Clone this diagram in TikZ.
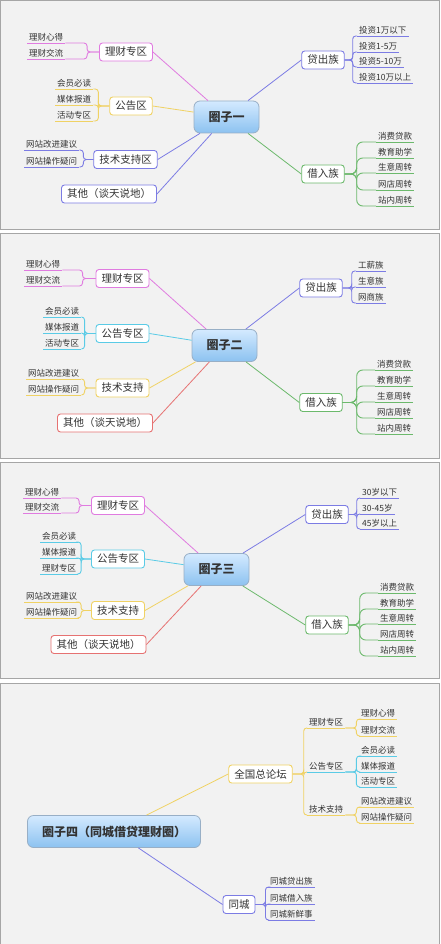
\documentclass[tikz,border=0pt]{standalone}
\usepackage{fontspec}
\usepackage{tikz}
\newfontfamily\cjk{Noto Sans CJK SC}
\definecolor{PanelBg}{HTML}{F2F2F2}
\definecolor{PanelLine}{HTML}{A6A6A6}
\definecolor{Ink}{HTML}{333333}
\definecolor{Mag}{HTML}{E07BE0}
\definecolor{Yel}{HTML}{F0D264}
\definecolor{Blu}{HTML}{7C7CE4}
\definecolor{Grn}{HTML}{6CB96C}
\definecolor{Cya}{HTML}{5ACBE6}
\definecolor{Red}{HTML}{E67272}
\definecolor{RootTop}{HTML}{D4EAFF}
\definecolor{RootBot}{HTML}{8CC2F0}
\definecolor{RootLine}{HTML}{98AFC6}

\begin{document}
\begin{tikzpicture}[
  x=1pt,y=-1pt,
  every node/.style={font=\cjk,text=Ink},
  panel/.style={draw=PanelLine,fill=PanelBg,line width=1pt},
  root/.style={rectangle,rounded corners=6pt,draw=RootLine,top color=RootTop,bottom color=RootBot,
    line width=0.8pt,minimum height=32pt,inner xsep=14.5pt,font=\cjk\bfseries\fontsize{12}{14}\selectfont},
  topic/.style={rectangle,rounded corners=3pt,draw=#1,fill=white,line width=0.9pt,
    minimum height=18pt,inner xsep=5.5pt,inner ysep=2pt,font=\cjk\fontsize{10.5}{12}\selectfont},
  leaf/.style={inner xsep=2pt,inner ysep=2pt,font=\cjk\fontsize{8.5}{10}\selectfont,
    append after command={(\tikzlastnode.south west) edge[draw=#1,line width=0.9pt] (\tikzlastnode.south east)}},
  link/.style={draw=#1,line width=0.8pt},
  fork/.style={draw=#1,line width=0.9pt,rounded corners=3pt}
]
\useasboundingbox (0,0) rectangle (440,944);
\draw[panel] (0.5,0.5) rectangle (439.5,229.5);
\draw[panel] (0.5,233.5) rectangle (439.5,458.5);
\draw[panel] (0.5,462.5) rectangle (439.5,678.5);
\draw[panel] (0.5,683.5) rectangle (439.5,950);

\node[root] (q1) at (226.5,117) {圈子一};
\node[topic=Mag] (q1lc) at (126,52) {理财专区};
\node[topic=Yel] (q1gg) at (131,106) {公告区};
\node[topic=Blu] (q1js) at (125.5,159.5) {技术支持区};
\node[topic=Blu] (q1qt) at (109,194) {其他（谈天说地）};
\node[topic=Blu] (q1dc) at (323,60) {贷出族};
\node[topic=Grn] (q1jr) at (323,174) {借入族};
\node[leaf=Mag,anchor=south west] (q1lc1) at (27,43) {理财心得};
\node[leaf=Mag,anchor=south west] (q1lc2) at (27,59) {理财交流};
\node[leaf=Yel,anchor=south west] (q1gg1) at (55,89) {会员必读};
\node[leaf=Yel,anchor=south west] (q1gg2) at (55,105) {媒体报道};
\node[leaf=Yel,anchor=south west] (q1gg3) at (55,121) {活动专区};
\node[leaf=Blu,anchor=south west] (q1js1) at (24,150) {网站改进建议};
\node[leaf=Blu,anchor=south west] (q1js2) at (24,167) {网站操作疑问};
\node[leaf=Blu,anchor=south west] (q1dc1) at (357,36) {投资1万以下};
\node[leaf=Blu,anchor=south west] (q1dc2) at (357,52) {投资1-5万};
\node[leaf=Blu,anchor=south west] (q1dc3) at (357,67) {投资5-10万};
\node[leaf=Blu,anchor=south west] (q1dc4) at (357,83) {投资10万以上};
\node[leaf=Grn,anchor=south west] (q1jr1) at (376,142) {消费贷款};
\node[leaf=Grn,anchor=south west] (q1jr2) at (376,158) {教育助学};
\node[leaf=Grn,anchor=south west] (q1jr3) at (376,173) {生意周转};
\node[leaf=Grn,anchor=south west] (q1jr4) at (376,190) {网店周转};
\node[leaf=Grn,anchor=south west] (q1jr5) at (376,206) {站内周转};
\draw[link=Mag] (q1) -- (q1lc.east);
\draw[link=Yel] (q1) -- (q1gg.east);
\draw[link=Blu] (q1) -- (q1js.east);
\draw[link=Blu] (q1) -- (q1qt.east);
\draw[link=Blu] (q1) -- (q1dc.west);
\draw[link=Grn] (q1) -- (q1jr.west);
\foreach \i in {1,2} \draw[fork=Mag] (q1lc.west) -- ++(-12,0) |- (q1lc\i.south east);
\foreach \i in {1,2,3} \draw[fork=Yel] (q1gg.west) -- ++(-11,0) |- (q1gg\i.south east);
\foreach \i in {1,2} \draw[fork=Blu] (q1js.west) -- ++(-10,0) |- (q1js\i.south east);
\foreach \i in {1,...,4} \draw[fork=Blu] (q1dc.east) -- ++(8,0) |- (q1dc\i.south west);
\foreach \i in {1,...,5} \draw[fork=Grn,rounded corners=6pt] (q1jr.east) -- ++(12,0) |- (q1jr\i.south west);

\node[root] (q2) at (224.5,345.5) {圈子二};
\node[topic=Mag] (q2lc) at (122.5,278.5) {理财专区};
\node[topic=Cya] (q2gg) at (122.5,333.5) {公告专区};
\node[topic=Yel] (q2js) at (122.5,388) {技术支持};
\node[topic=Red] (q2qt) at (105,423) {其他（谈天说地）};
\node[topic=Blu] (q2dc) at (321,288) {贷出族};
\node[topic=Grn] (q2jr) at (321,402.5) {借入族};
\node[leaf=Mag,anchor=south west] (q2lc1) at (24,270) {理财心得};
\node[leaf=Mag,anchor=south west] (q2lc2) at (24,286) {理财交流};
\node[leaf=Cya,anchor=south west] (q2gg1) at (43,317) {会员必读};
\node[leaf=Cya,anchor=south west] (q2gg2) at (43,333) {媒体报道};
\node[leaf=Cya,anchor=south west] (q2gg3) at (43,349) {活动专区};
\node[leaf=Yel,anchor=south west] (q2js1) at (26,379) {网站改进建议};
\node[leaf=Yel,anchor=south west] (q2js2) at (26,395) {网站操作疑问};
\node[leaf=Blu,anchor=south west] (q2dc1) at (356,271) {工薪族};
\node[leaf=Blu,anchor=south west] (q2dc2) at (356,287) {生意族};
\node[leaf=Blu,anchor=south west] (q2dc3) at (356,303) {网商族};
\node[leaf=Grn,anchor=south west] (q2jr1) at (375,370) {消费贷款};
\node[leaf=Grn,anchor=south west] (q2jr2) at (375,386) {教育助学};
\node[leaf=Grn,anchor=south west] (q2jr3) at (375,402) {生意周转};
\node[leaf=Grn,anchor=south west] (q2jr4) at (375,418) {网店周转};
\node[leaf=Grn,anchor=south west] (q2jr5) at (375,434) {站内周转};
\draw[link=Mag] (q2) -- (q2lc.east);
\draw[link=Cya] (q2) -- (q2gg.east);
\draw[link=Yel] (q2) -- (q2js.east);
\draw[link=Red] (q2) -- (q2qt.east);
\draw[link=Blu] (q2) -- (q2dc.west);
\draw[link=Grn] (q2) -- (q2jr.west);
\foreach \i in {1,2} \draw[fork=Mag] (q2lc.west) -- ++(-13,0) |- (q2lc\i.south east);
\foreach \i in {1,2,3} \draw[fork=Cya] (q2gg.west) -- ++(-11,0) |- (q2gg\i.south east);
\foreach \i in {1,2} \draw[fork=Yel] (q2js.west) -- ++(-11,0) |- (q2js\i.south east);
\foreach \i in {1,2,3} \draw[fork=Blu] (q2dc.east) -- ++(9,0) |- (q2dc\i.south west);
\foreach \i in {1,...,5} \draw[fork=Grn,rounded corners=6pt] (q2jr.east) -- ++(14,0) |- (q2jr\i.south west);

\node[root] (q3) at (216.5,569.5) {圈子三};
\node[topic=Mag] (q3lc) at (118,505.5) {理财专区};
\node[topic=Cya] (q3gg) at (118,559) {公告专区};
\node[topic=Yel] (q3js) at (118,610.5) {技术支持};
\node[topic=Red] (q3qt) at (98.5,644.5) {其他（谈天说地）};
\node[topic=Blu] (q3dc) at (327,514.5) {贷出族};
\node[topic=Grn] (q3jr) at (327,625) {借入族};
\node[leaf=Mag,anchor=south west] (q3lc1) at (23,498) {理财心得};
\node[leaf=Mag,anchor=south west] (q3lc2) at (23,513) {理财交流};
\node[leaf=Cya,anchor=south west] (q3gg1) at (40,542) {会员必读};
\node[leaf=Cya,anchor=south west] (q3gg2) at (40,558) {媒体报道};
\node[leaf=Cya,anchor=south west] (q3gg3) at (40,574) {理财专区};
\node[leaf=Yel,anchor=south west] (q3js1) at (24,602) {网站改进建议};
\node[leaf=Yel,anchor=south west] (q3js2) at (24,618) {网站操作疑问};
\node[leaf=Blu,anchor=south west] (q3dc1) at (360,498) {30岁以下};
\node[leaf=Blu,anchor=south west] (q3dc2) at (360,514) {30-45岁};
\node[leaf=Blu,anchor=south west] (q3dc3) at (360,529) {45岁以上};
\node[leaf=Grn,anchor=south west] (q3jr1) at (378,593) {消费贷款};
\node[leaf=Grn,anchor=south west] (q3jr2) at (378,609) {教育助学};
\node[leaf=Grn,anchor=south west] (q3jr3) at (378,624) {生意周转};
\node[leaf=Grn,anchor=south west] (q3jr4) at (378,640) {网店周转};
\node[leaf=Grn,anchor=south west] (q3jr5) at (378,656) {站内周转};
\draw[link=Mag] (q3) -- (q3lc.east);
\draw[link=Cya] (q3) -- (q3gg.east);
\draw[link=Yel] (q3) -- (q3js.east);
\draw[link=Red] (q3) -- (q3qt.east);
\draw[link=Blu] (q3) -- (q3dc.west);
\draw[link=Grn] (q3) -- (q3jr.west);
\foreach \i in {1,2} \draw[fork=Mag] (q3lc.west) -- ++(-12,0) |- (q3lc\i.south east);
\foreach \i in {1,2,3} \draw[fork=Cya] (q3gg.west) -- ++(-10,0) |- (q3gg\i.south east);
\foreach \i in {1,2} \draw[fork=Yel] (q3js.west) -- ++(-10,0) |- (q3js\i.south east);
\foreach \i in {1,2,3} \draw[fork=Blu] (q3dc.east) -- ++(8,0) |- (q3dc\i.south west);
\foreach \i in {1,...,5} \draw[fork=Grn,rounded corners=6pt] (q3jr.east) -- ++(11,0) |- (q3jr\i.south west);

\node[root] (q4) at (114,831.5) {圈子四（同城借贷理财圈）};
\node[topic=Yel] (q4qg) at (260.5,774) {全国总论坛};
\node[topic=Blu] (q4tc) at (239,904.5) {同城};
\node[leaf=Yel,anchor=south west] (q4lc) at (307,728) {理财专区};
\node[leaf=Cya,anchor=south west] (q4gg) at (307,772) {公告专区};
\node[leaf=Yel,anchor=south west] (q4js) at (307,815) {技术支持};
\node[leaf=Yel,anchor=south west] (q4lc1) at (359,719) {理财心得};
\node[leaf=Yel,anchor=south west] (q4lc2) at (359,736) {理财交流};
\node[leaf=Cya,anchor=south west] (q4gg1) at (359,756) {会员必读};
\node[leaf=Cya,anchor=south west] (q4gg2) at (359,772) {媒体报道};
\node[leaf=Cya,anchor=south west] (q4gg3) at (359,787) {活动专区};
\node[leaf=Yel,anchor=south west] (q4js1) at (359,807) {网站改进建议};
\node[leaf=Yel,anchor=south west] (q4js2) at (359,823) {网站操作疑问};
\node[leaf=Blu,anchor=south west] (q4tc1) at (268,887) {同城贷出族};
\node[leaf=Blu,anchor=south west] (q4tc2) at (268,904) {同城借入族};
\node[leaf=Blu,anchor=south west] (q4tc3) at (268,920) {同城新鲜事};
\draw[link=Yel] (q4) -- (q4qg.west);
\draw[link=Blu] (q4) -- (q4tc.west);
\foreach \n in {lc,gg,js} \draw[fork=Yel] (q4qg.east) -- ++(11,0) |- (q4\n.south west);
\foreach \i in {1,2} \draw[fork=Yel] (q4lc.south east) -- ++(11,0) |- (q4lc\i.south west);
\foreach \i in {1,2,3} \draw[fork=Cya] (q4gg.south east) -- ++(11,0) |- (q4gg\i.south west);
\foreach \i in {1,2} \draw[fork=Yel] (q4js.south east) -- ++(11,0) |- (q4js\i.south west);
\foreach \i in {1,2,3} \draw[fork=Blu] (q4tc.east) -- ++(10,0) |- (q4tc\i.south west);
\end{tikzpicture}
\end{document}
